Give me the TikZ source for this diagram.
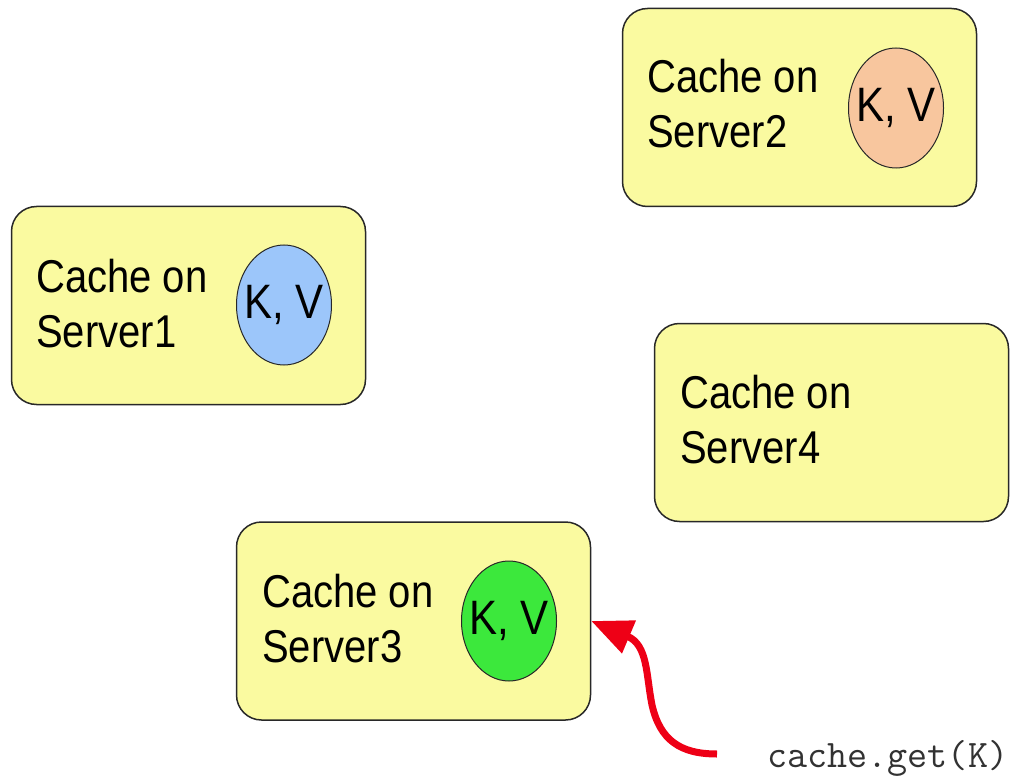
\documentclass[tikz,border=0pt]{standalone}
\usepackage{fontspec}
\usepackage{graphicx}
\setmainfont{Liberation Sans}
\usetikzlibrary{arrows.meta,shapes.geometric}
\definecolor{boxfill}{RGB}{250,250,160}
\definecolor{boxline}{RGB}{40,40,40}
\definecolor{kvblue}{RGB}{156,198,250}
\definecolor{kvorange}{RGB}{248,198,158}
\definecolor{kvgreen}{RGB}{60,232,60}
\definecolor{arrowred}{RGB}{238,0,22}
\definecolor{codegray}{RGB}{50,50,50}
\newcommand{\vstretch}[1]{\scalebox{1}[1.15]{#1}}
\begin{document}
\begin{tikzpicture}[x=1pt,y=-1pt,
  cachebox/.style={draw=boxline, line width=1.5pt, fill=boxfill, rounded corners=25pt,
    minimum width=354pt, minimum height=198pt, inner sep=0pt},
  lbl/.style={anchor=base west, inner sep=0pt, font=\fontsize{40}{48}\selectfont},
  kv/.style={ellipse, draw=boxline, line width=1pt, minimum width=95pt, minimum height=120pt,
    inner sep=0pt},
  kvtext/.style={inner sep=0pt, font=\fontsize{42}{48}\selectfont},
  code/.style={anchor=base west, inner sep=0pt, text=codegray, font=\ttfamily\fontsize{39}{44}\selectfont},
  getarrow/.style={draw=arrowred, line width=7pt, -{Triangle[length=41pt,width=34pt]}}
]
\useasboundingbox (0,0) rectangle (1020,778);

% boxes
\node[cachebox] (s2) at (799.5,107.5) {};
\node[cachebox] (s1) at (188.5,305.5) {};
\node[cachebox] (s4) at (831.5,422.5) {};
\node[cachebox] (s3) at (413.5,621) {};

% labels
\node[lbl] (s2a) at (647,93) {\vstretch{Cache on}};
\node[lbl] (s2b) at (647,148) {\vstretch{Server2}};
\node[lbl] (s1a) at (36,292) {\vstretch{Cache on}};
\node[lbl] (s1b) at (36,347) {\vstretch{Server1}};
\node[lbl] (s4a) at (680,408) {\vstretch{Cache on}};
\node[lbl] (s4b) at (680,463) {\vstretch{Server4}};
\node[lbl] (s3a) at (262,607) {\vstretch{Cache on}};
\node[lbl] (s3b) at (262,662) {\vstretch{Server3}};

% key/value ellipses
\node[kv, fill=kvorange] (k2) at (896,108) {};
\node[kvtext] (k2t) at (k2) {\vstretch{K, V}};
\node[kv, fill=kvblue] (k1) at (284,305) {};
\node[kvtext] (k1t) at (k1) {\vstretch{K, V}};
\node[kv, fill=kvgreen] (k3) at (509,621) {};
\node[kvtext] (k3t) at (k3) {\vstretch{K, V}};

% request
\node[code] (get) at (767,767) {cache.get(K)};
\coordinate (start) at (717,754);
\draw[getarrow] (start) .. controls (680,754) and (660,740) .. (652,705)
  .. controls (646,675) and (648,645) .. (s3.east);
\end{tikzpicture}
\end{document}
